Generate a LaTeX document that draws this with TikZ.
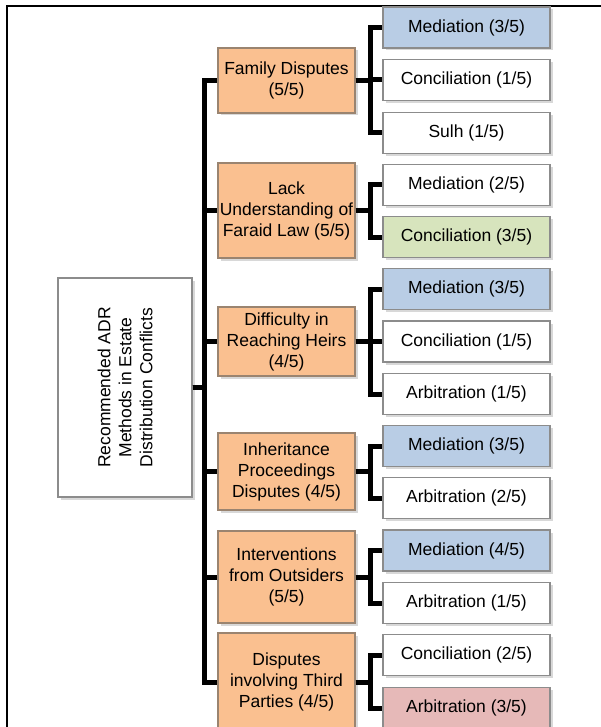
\documentclass[tikz,border=0pt]{standalone}
\usepackage{fontspec}
\setmainfont{Liberation Sans}
\usetikzlibrary{shadows}

\definecolor{causefill}{HTML}{FAC090}
\definecolor{causeline}{HTML}{9A8470}
\definecolor{medfill}{HTML}{B9CDE5}
\definecolor{confill}{HTML}{D7E4BD}
\definecolor{arbfill}{HTML}{E6B9B8}
\definecolor{boxline}{HTML}{8C8C8C}

\tikzset{
  shade box/.style={drop shadow={shadow xshift=2.5pt, shadow yshift=-2.5pt, opacity=0.3, fill=gray}},
  cause/.style={draw=causeline, fill=causefill, line width=1.2pt, minimum width=137pt, align=center, inner sep=0pt, shade box, font=\fontsize{17.5}{21}\selectfont},
  method/.style={draw=boxline, fill=white, line width=1.2pt, minimum width=167pt, minimum height=41pt, inner sep=0pt, shade box, font=\fontsize{17.5}{21}\selectfont},
  link/.style={line width=5pt},
}

\begin{document}
\begin{tikzpicture}[x=1pt, y=-1pt]
\useasboundingbox (0,0) rectangle (601,727);
\clip (0,0) rectangle (601,727);
\fill[white] (0,0) rectangle (601,727);
\draw[line width=2pt] (7,6) rectangle (650,780);

\def\mx{286.5}
\def\rx{466.5}

\node[draw=boxline, fill=white, line width=1.2pt, minimum width=134pt, minimum height=219pt, shade box] (root) at (125,387.5) {};
\node[rotate=90, align=center, font=\fontsize{17.5}{21}\selectfont] (rootlabel) at (root.center) {Recommended ADR\\Methods in Estate\\Distribution Conflicts};

\node[cause, minimum height=65pt] (fam) at (\mx,80.5) {Family Disputes\\(5/5)};
\node[cause, minimum height=95pt] (lack) at (\mx,210.5) {Lack\\Understanding of\\Faraid Law (5/5)};
\node[cause, minimum height=69pt] (diff) at (\mx,341.5) {Difficulty in\\Reaching Heirs\\(4/5)};
\node[cause, minimum height=77pt] (inh) at (\mx,471.5) {Inheritance\\Proceedings\\Disputes (4/5)};
\node[cause, minimum height=92pt] (intv) at (\mx,577) {Interventions\\from Outsiders\\(5/5)};
\node[cause, minimum height=98pt] (third) at (\mx,682) {Disputes\\involving Third\\Parties (4/5)};

\node[method, fill=medfill] (fam1) at (\rx,27.5) {Mediation (3/5)};
\node[method] (fam2) at (\rx,80) {Conciliation (1/5)};
\node[method] (fam3) at (\rx,133) {Sulh (1/5)};

\node[method] (lack1) at (\rx,185) {Mediation (2/5)};
\node[method, fill=confill] (lack2) at (\rx,237) {Conciliation (3/5)};

\node[method, fill=medfill] (diff1) at (\rx,289) {Mediation (3/5)};
\node[method] (diff2) at (\rx,341.5) {Conciliation (1/5)};
\node[method] (diff3) at (\rx,394) {Arbitration (1/5)};

\node[method, fill=medfill] (inh1) at (\rx,446) {Mediation (3/5)};
\node[method] (inh2) at (\rx,498) {Arbitration (2/5)};

\node[method, fill=medfill] (intv1) at (\rx,550.5) {Mediation (4/5)};
\node[method] (intv2) at (\rx,603) {Arbitration (1/5)};

\node[method] (third1) at (\rx,655) {Conciliation (2/5)};
\node[method, fill=arbfill] (third2) at (\rx,708) {Arbitration (3/5)};

\coordinate (trunk) at (204,387.5);
\foreach \c in {fam,lack,diff,inh,intv,third}
  \draw[link] (root.east) -- (trunk) |- (\c.west);

\foreach \p/\c in {fam/fam1,fam/fam2,fam/fam3,lack/lack1,lack/lack2,diff/diff1,diff/diff2,diff/diff3,inh/inh1,inh/inh2,intv/intv1,intv/intv2,third/third1,third/third2}
  \draw[link] (\p.east) -- ++(15,0) |- (\c.west);

\end{tikzpicture}
\end{document}
